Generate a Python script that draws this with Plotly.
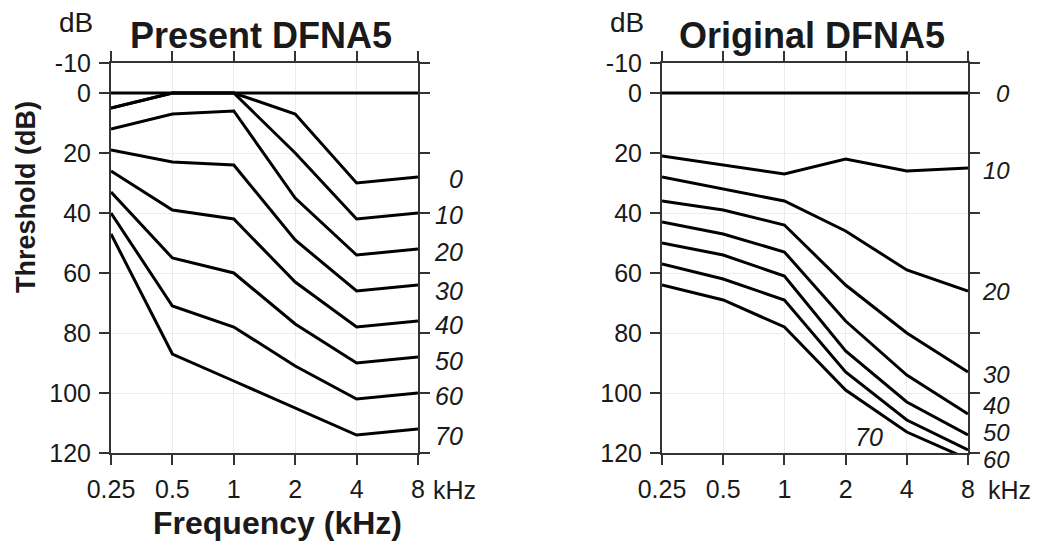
import math
import plotly.graph_objects as go

W, H = 1046, 544

freqs = [0.25, 0.5, 1, 2, 4, 8]
freq_labels = ["0.25", "0.5", "1", "2", "4", "8"]
db_ticks = [-10, 0, 20, 40, 60, 80, 100, 120]
ages = [0, 10, 20, 30, 40, 50, 60, 70]

# Present DFNA5 (reference line + age curves)
present_ref = [0, 0, 0, 0, 0, 0]
present_0 = [5, 0, 0, 7, 30, 28]
present_10 = [5, 0, 0, 20, 42, 40]
present_20 = [12, 7, 6, 35, 54, 52]
present_30 = [19, 23, 24, 49, 66, 64]
present_40 = [26, 39, 42, 63, 78, 76]
present_50 = [33, 55, 60, 77, 90, 88]
present_60 = [40, 71, 78, 91, 102, 100]
present_70 = [47, 87, 96, 105, 114, 112]

# Original DFNA5
original_0 = [0, 0, 0, 0, 0, 0]
original_10 = [21, 24, 27, 22, 26, 25]
original_20 = [28, 32, 36, 46, 59, 66]
original_30 = [36, 39, 44, 64, 80, 93]
original_40 = [43, 47, 53, 76, 94, 107]
original_50 = [50, 54, 61, 86, 103, 114]
original_60 = [57, 62, 69, 93, 109, 119]
original_70 = [64, 69, 78, 99, 113, 122]

present_series = [present_ref, present_0, present_10, present_20, present_30,
                  present_40, present_50, present_60, present_70]
original_series = [original_0, original_10, original_20, original_30,
                   original_40, original_50, original_60, original_70]

# label positions (dB) for the age labels
present_label_y = [28.8, 40.7, 53, 66, 77.3, 89.3, 101, 114.3]
original_label_y = [0.3, 25.7, 66, 93.7, 104.3, 113.0, 122.3]
original_70_label = (2.6, 114.7)

FONT = "Liberation Sans, Arial, Helvetica, sans-serif"
INK = "#1a1a1a"

# plot-area geometry (pixels)
Y_TOP, Y_BOT = 63, 453
Y_MIN, Y_MAX = -10, 120

fig = go.Figure()
for s in present_series:
    fig.add_trace(go.Scatter(x=freqs, y=s, mode="lines", xaxis="x", yaxis="y",
                             line=dict(color="black", width=3), showlegend=False))
for s in original_series:
    fig.add_trace(go.Scatter(x=freqs, y=s, mode="lines", xaxis="x2", yaxis="y2",
                             line=dict(color="black", width=3), showlegend=False))

def px(x):
    return x / W

def py(y):
    return 1 - y / H

def db_to_paper(db):
    ypix = Y_TOP + (db - Y_MIN) / (Y_MAX - Y_MIN) * (Y_BOT - Y_TOP)
    return py(ypix)

xcommon = dict(type="log", range=[math.log10(0.25), math.log10(8)],
               tickvals=freqs, ticktext=freq_labels,
               showline=True, linecolor="#333", linewidth=2, mirror="ticks",
               ticks="outside", ticklen=10, tickwidth=2, tickcolor="#333",
               showgrid=True, gridcolor="#ececec", gridwidth=1, zeroline=False,
               tickfont=dict(family=FONT, size=25, color=INK), fixedrange=True,
               ticklabelstandoff=3, automargin=False)
ycommon = dict(range=[Y_MAX, Y_MIN], tickvals=db_ticks,
               ticktext=[str(v) for v in db_ticks],
               showline=True, linecolor="#333", linewidth=2, mirror="ticks",
               ticks="outside", ticklen=10, tickwidth=2, tickcolor="#333",
               showgrid=True, gridcolor="#ececec", gridwidth=1, zeroline=False,
               tickfont=dict(family=FONT, size=25, color=INK), fixedrange=True,
               ticklabelstandoff=3, automargin=False,
               domain=[py(Y_BOT), py(Y_TOP)])

fig.update_layout(
    width=W, height=H, autosize=False,
    margin=dict(l=0, r=0, t=0, b=0, pad=0, autoexpand=False),
    paper_bgcolor="white", plot_bgcolor="white",
    xaxis=dict(domain=[px(111), px(418)], anchor="y", **xcommon),
    yaxis=dict(anchor="x", **ycommon),
    xaxis2=dict(domain=[px(662), px(968)], anchor="y2", **xcommon),
    yaxis2=dict(anchor="x2", **ycommon),
    showlegend=False,
)

ann = []
def text(x, y, t, size, bold=False, italic=False, xanchor="center", yanchor="middle",
         xref="paper", yref="paper", angle=0, pad=1):
    if bold:
        t = "<b>" + t + "</b>"
    if italic:
        t = "<i>" + t + "</i>"
    ann.append(dict(x=x, y=y, xref=xref, yref=yref, text=t, showarrow=False,
                    xanchor=xanchor, yanchor=yanchor, textangle=angle,
                    borderpad=pad, borderwidth=0,
                    font=dict(family=FONT, size=size, color=INK)))

text(px(261), py(36), "Present DFNA5", 36, bold=True)
text(px(812), py(36), "Original DFNA5", 36, bold=True)
text(px(76), py(23), "dB", 28)
text(px(627), py(23), "dB", 28)
text(px(26), py(197), "Threshold (dB)", 27, bold=True, angle=-90)
text(px(277), py(523), "Frequency (kHz)", 32, bold=True)
text(px(432), py(490), "kHz", 25, xanchor="left")
text(px(987), py(490), "kHz", 25, xanchor="left")

for a, yv in zip(ages, present_label_y):
    text(px(463), db_to_paper(yv), str(a), 25, italic=True, xanchor="right", pad=0)
for a, yv in zip(ages[:7], original_label_y):
    text(px(1010), db_to_paper(yv), str(a), 24, italic=True, xanchor="right", pad=0)
text(math.log10(original_70_label[0]), original_70_label[1], "70", 25, italic=True,
     xref="x2", yref="y2")

fig.update_layout(annotations=ann)
fig.write_html("out.html")
